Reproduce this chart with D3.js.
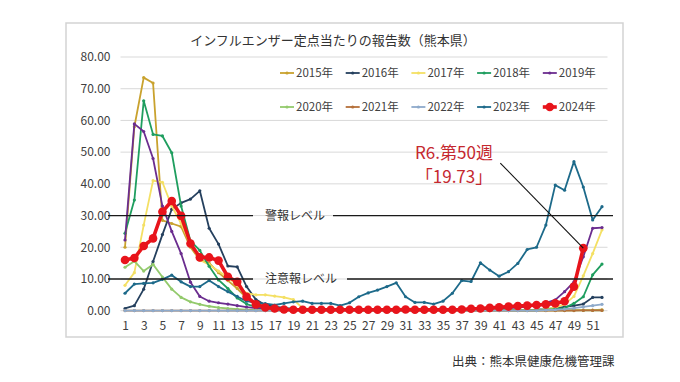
<!DOCTYPE html>
<html><head><meta charset="utf-8">
<script src="https://cdn.jsdelivr.net/npm/d3@7"></script>
<style>
body{margin:0;background:#fff;}
svg{display:block;font-family:"Noto Sans CJK JP","Noto Sans",sans-serif;}
</style>
</head><body>
<svg id="c" width="680" height="382"></svg>
<script>
// ---------- data ----------
const weeks = d3.range(1, 53);
const xTickLabels = weeks.filter(w => w % 2 === 1);
const yTicks = [0, 10, 20, 30, 40, 50, 60, 70, 80];
const seriesNames = ["2015年","2016年","2017年","2018年","2019年","2020年","2021年","2022年","2023年","2024年"];
const seriesColors = ["#c9a22e","#25405e","#f4e064","#1f9e5f","#6b2d8f","#93ca6c","#b5703a","#8eaacb","#1d6a8a","#e8141b"];

const v2015 = [20,58,73.5,71.8,28.5,27.5,26.5,20,16,15,12,9.5,7,4,2.5,1.5,1.0,0.7,0.5,0.3,
  0.2,0.2,0.1,0.1,0.1,0.1,0.1,0.1,0.1,0.1,0.1,0.1,0.1,0.1,0.1,0.1,0.1,0.1,0.1,0.1,
  0.1,0.1,0.1,0.1,0.1,0.1,0.1,0.1,0.2,0.2,0.2,0.3];
const v2016 = [0.7,1.6,6.8,15.5,24,32,34,35.2,37.8,26,21,14.1,13.8,7.6,3.5,1.8,1.3,0.9,0.6,0.4,
  0.2,0.2,0.2,0.2,0.2,0.2,0.2,0.2,0.2,0.2,0.2,0.2,0.2,0.2,0.2,0.2,0.2,0.2,0.2,0.2,
  0.2,0.2,0.2,0.2,0.3,0.5,0.8,1.2,1.6,2.1,4.2,4.2];
const v2017 = [8,12,27,41,40.5,33,27.5,21,16,14.5,12.5,10.5,8,5.5,5,5,4.6,4.2,3.5,0.8,
  0.5,0.3,0.1,0.1,0.1,0.1,0.1,0.1,0.1,0.1,0.1,0.1,0.1,0.1,0.1,0.1,0.1,0.1,0.1,0.1,
  0.1,0.1,0.1,0.1,0.1,0.5,1,2,4.5,11,18,25.5];
const v2018 = [24.4,34.9,66.2,55.6,55.1,49.8,33,22,19,14,9.7,7,4,2.1,1.2,0.8,0.5,0.3,0.1,0.1,
  0.1,0.1,0.1,0.1,0.1,0.1,0.1,0.1,0.1,0.1,0.1,0.1,0.1,0.1,0.1,0.1,0.1,0.1,0.1,0.1,
  0.1,0.1,0.1,0.1,0.1,0.3,0.5,0.8,2.3,4.4,11.3,14.7];
const v2019 = [22.3,58.9,56.5,48,33,25,18,9,4.5,3,2.5,2.1,1.6,1.1,0.8,0.5,0.3,0.2,0.2,0.2,
  0.2,0.2,0.2,0.2,0.2,0.2,0.2,0.2,0.2,0.2,0.2,0.2,0.2,0.2,0.2,0.2,0.2,0.2,0.2,0.5,
  0.6,0.8,1.0,1.3,1.7,2.5,3.4,6,9.1,17,26,26.2];
const v2020 = [13.7,15.6,12.5,14.6,10.6,6.8,4.2,2.8,2,1.4,1,0.7,0.5,0.3,0.2,0.1,0.1,0.1,0.1,0.1,
  0.1,0.1,0.1,0.1,0.1,0.1,0.1,0.1,0.1,0.1,0.1,0.1,0.1,0.1,0.1,0.1,0.1,0.1,0.1,0.1,
  0.1,0.1,0.1,0.1,0.1,0.1,0.1,0.1,0.1,0.1,0.1,0.1];
const v2021 = [0.05,0.05,0.05,0.05,0.05,0.05,0.05,0.05,0.05,0.05,0.05,0.05,0.05,0.05,0.05,0.05,0.05,0.05,0.05,0.05,
  0.05,0.05,0.05,0.05,0.05,0.05,0.05,0.05,0.05,0.05,0.05,0.05,0.05,0.05,0.05,0.05,0.05,0.05,0.05,0.05,
  0.05,0.05,0.05,0.05,0.05,0.05,0.05,0.05,0.05,0.1,0.1,0.1];
const v2022 = [0.05,0.05,0.05,0.05,0.05,0.05,0.05,0.05,0.05,0.05,0.05,0.05,0.05,0.05,0.05,0.05,0.05,0.05,0.05,0.05,
  0.05,0.05,0.05,0.05,0.05,0.05,0.05,0.05,0.05,0.05,0.05,0.05,0.05,0.05,0.05,0.05,0.05,0.05,0.05,0.05,
  0.05,0.05,0.05,0.05,0.05,0.2,0.3,0.5,0.8,1.2,1.6,2.0];
const v2023 = [5.5,8.4,8.6,8.8,9.9,11.2,9.1,7.6,7.6,9.5,
  7.6,6,4.5,3,2.5,2.2,1.8,2.3,2.8,3,
  2.3,2.3,2.3,1.6,2.5,4.4,5.6,6.5,7.6,8.8,
  4.4,2.6,2.6,2.1,3.0,5.5,9.5,9.2,15.1,12.8,
  10.9,12.3,14.9,19.3,20,27,39.6,38,47,39,
  28.6,32.8];
const v2024 = [16,16.6,20.4,22.8,31.2,34.6,29.9,21.2,16.8,16.8,15.8,10.7,9.1,4.4,2.0,1.0,0.7,0.4,
  0.3,0.3,0.3,0.3,0.3,0.3,0.3,0.3,0.3,0.3,0.3,0.3,0.4,0.3,0.3,0.3,0.3,0.3,0.4,
  0.6,0.7,0.9,1.1,1.3,1.5,1.6,1.8,2.0,2.3,3.0,7.6,19.73];
const seriesValues = [v2015,v2016,v2017,v2018,v2019,v2020,v2021,v2022,v2023,v2024];

const alertLevel = 30, alertLabel = "警報レベル";
const warnLevel = 10, warnLabel = "注意報レベル";
const titleText = "インフルエンザー定点当たりの報告数（熊本県）";
const noteLines = ["R6.第50週", "「19.73」"];
const noteWeek = 50, noteValue = 19.73;
const sourceText = "出典：熊本県健康危機管理課";

// ---------- layout ----------
const svg = d3.select("#c");
const plot = {left: 120.5, right: 607.5, top: 57, bottom: 310.7};
const x = d3.scalePoint().domain(weeks).range([125, 602]);
const y = d3.scaleLinear().domain([0, 80]).range([plot.bottom, plot.top]);
const axisColor = "#404040";

// frame
svg.append("rect").attr("x", 66).attr("y", 23).attr("width", 557).attr("height", 314)
  .attr("fill", "#fff").attr("stroke", "#d3d3d3").attr("stroke-width", 1.5);

// title
svg.append("text").attr("x", 333).attr("y", 45).attr("text-anchor", "middle")
  .attr("font-size", 13).attr("fill", "#333").text(titleText);

// gridlines
svg.append("g").selectAll("line").data(yTicks).join("line")
  .attr("x1", plot.left).attr("x2", plot.right)
  .attr("y1", d => y(d)).attr("y2", d => y(d))
  .attr("stroke", "#d9d9d9").attr("stroke-width", 1);

// y axis
const gy = svg.append("g").attr("transform", `translate(${plot.left},0)`)
  .call(d3.axisLeft(y).tickValues(yTicks).tickFormat(d3.format(".2f")).tickSize(0).tickPadding(10));
gy.select(".domain").remove();
gy.selectAll("text").attr("font-size", 12).attr("fill", axisColor)
  .attr("font-family", '"Noto Sans CJK JP","Noto Sans",sans-serif');

// x axis
const gx = svg.append("g").attr("transform", `translate(0,${plot.bottom})`)
  .call(d3.axisBottom(x).tickValues(xTickLabels).tickSize(0).tickPadding(11));
gx.select(".domain").remove();
gx.selectAll("text").attr("font-size", 12).attr("fill", axisColor)
  .attr("font-family", '"Noto Sans CJK JP","Noto Sans",sans-serif');

// level lines
function levelLine(level, label, segs) {
  const g = svg.append("g");
  segs.forEach(s => g.append("line").attr("x1", s[0]).attr("x2", s[1])
    .attr("y1", y(level)).attr("y2", y(level)).attr("stroke", "#1a1a1a").attr("stroke-width", 1.3));
  g.append("text").attr("x", 265).attr("y", y(level)).attr("dy", "0.36em")
    .attr("font-size", 12).attr("fill", "#333").text(label);
}

// series
const line = d3.line().x((d, i) => x(weeks[i])).y(d => y(d));
seriesValues.forEach((vals, k) => {
  const isLast = k === seriesValues.length - 1;
  const g = svg.append("g");
  g.append("path").datum(vals).attr("d", line).attr("fill", "none")
    .attr("stroke", seriesColors[k]).attr("stroke-width", isLast ? 3.6 : 1.8)
    .attr("stroke-linejoin", "round");
  g.selectAll("circle").data(vals).join("circle")
    .attr("cx", (d, i) => x(weeks[i])).attr("cy", d => y(d))
    .attr("r", isLast ? 4.3 : 1.6).attr("fill", seriesColors[k]);
});

levelLine(alertLevel, alertLabel, [[108, 253], [333, 613]]);
levelLine(warnLevel, warnLabel, [[108, 253], [347, 613]]);

// legend
seriesNames.forEach((name, k) => {
  const col = k % 5, row = Math.floor(k / 5);
  const lx = 280 + col * 65.7, ly = row === 0 ? 73 : 107;
  const big = k === seriesNames.length - 1;
  svg.append("line").attr("x1", lx).attr("x2", lx + 14).attr("y1", ly).attr("y2", ly)
    .attr("stroke", seriesColors[k]).attr("stroke-width", big ? 3.6 : 1.8);
  svg.append("circle").attr("cx", lx + 7).attr("cy", ly).attr("r", big ? 4.3 : 1.6).attr("fill", seriesColors[k]);
  svg.append("text").attr("x", lx + 16).attr("y", ly).attr("dy", "0.36em")
    .attr("font-size", 11.5).attr("fill", "#404040").text(name);
});

// annotation
const px = x(noteWeek), py = y(noteValue);
svg.append("line").attr("x1", px - 83).attr("y1", py - 85).attr("x2", px).attr("y2", py)
  .attr("stroke", "#111").attr("stroke-width", 1.1);
noteLines.forEach((t, i) => {
  svg.append("text").attr("x", 454).attr("y", 153 + i * 24).attr("dy", "0.36em")
    .attr("text-anchor", "middle").attr("font-size", 17).attr("fill", "#c5282f").text(t);
});

// source
svg.append("text").attr("x", 452).attr("y", 361).attr("dy", "0.36em")
  .attr("font-size", 12.5).attr("fill", "#333").text(sourceText);
</script>
</body></html>
